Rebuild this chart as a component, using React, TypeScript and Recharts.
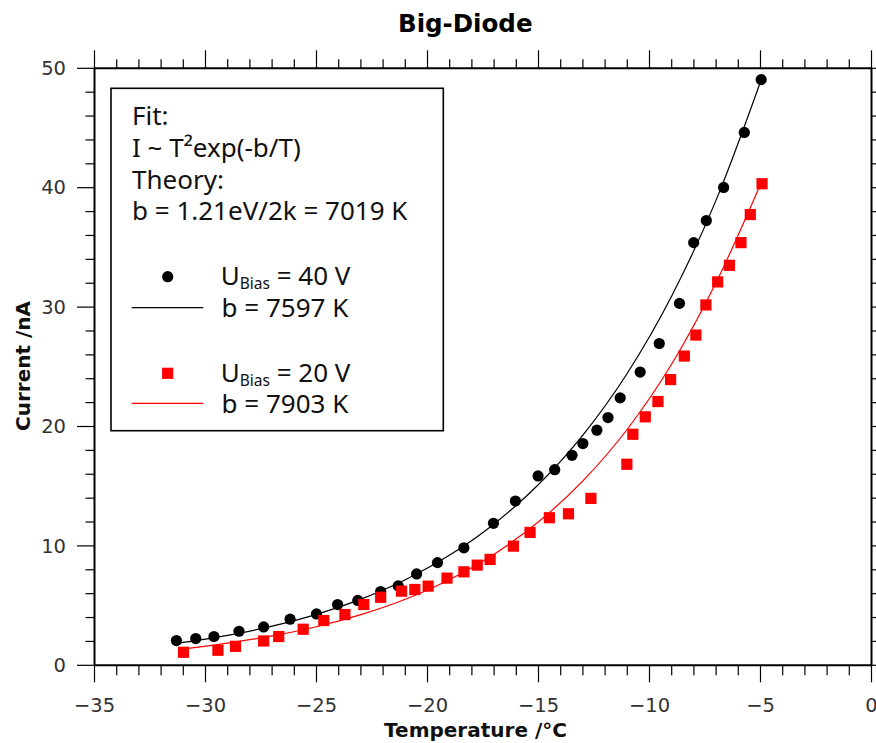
import React from "react";
import { ComposedChart, XAxis, YAxis, Scatter, Line, Customized } from "recharts";

// ---- data ----
const tempBias40 = [-31.31, -30.44, -29.62, -28.49, -27.38, -26.19, -25.0, -24.05, -23.14, -22.11, -21.32, -20.49, -19.55, -18.36, -17.03, -16.04, -15.02, -14.27, -13.49, -13.0, -12.37, -11.87, -11.32, -10.42, -9.56, -8.65, -8.01, -7.44, -6.66, -5.73, -4.97];
const currentBias40 = [2.07, 2.24, 2.41, 2.85, 3.21, 3.86, 4.3, 5.09, 5.43, 6.18, 6.65, 7.65, 8.6, 9.84, 11.89, 13.76, 15.86, 16.38, 17.59, 18.57, 19.69, 20.75, 22.4, 24.56, 26.95, 30.31, 35.4, 37.25, 40.02, 44.63, 49.05];

const tempBias20 = [-30.99, -29.44, -28.65, -27.38, -26.7, -25.6, -24.67, -23.72, -22.87, -22.11, -21.17, -20.57, -19.97, -19.12, -18.36, -17.76, -17.18, -16.13, -15.38, -14.51, -13.65, -12.64, -11.02, -10.75, -10.19, -9.62, -9.05, -8.43, -7.91, -7.46, -6.93, -6.4, -5.88, -5.46, -4.93];
const currentBias20 = [1.09, 1.26, 1.59, 2.04, 2.41, 3.02, 3.75, 4.25, 5.09, 5.7, 6.21, 6.35, 6.63, 7.3, 7.83, 8.39, 8.87, 9.98, 11.13, 12.36, 12.69, 13.98, 16.84, 19.35, 20.81, 22.09, 23.93, 25.9, 27.66, 30.18, 32.11, 33.5, 35.4, 37.75, 40.33];

const fitTemp40 = [-31.4, -29, -27, -25, -23, -21, -19, -17, -15, -13, -11, -9, -7, -4.9];
const fitCurrent40 = [1.8, 2.5, 3.28, 4.27, 5.54, 7.17, 9.23, 11.84, 15.14, 19.28, 24.46, 30.93, 38.96, 49.4];

const fitTemp20 = [-31.1, -29, -27, -25, -23, -21, -19, -17, -15, -13, -11, -9, -7, -4.9];
const fitCurrent20 = [1.35, 1.86, 2.46, 3.23, 4.24, 5.53, 7.19, 9.31, 12.02, 15.45, 19.77, 25.23, 32.06, 40.7];

const xTicks = Array.from({ length: 36 }, (_, i) => -35 + i);
const yTicks = Array.from({ length: 26 }, (_, i) => i * 2);

const title = "Big-Diode";
const xLabel = "Temperature /°C";
const yLabel = "Current /nA";
const legendLines = ["Fit:", "I ~ T²exp(-b/T)", "Theory:", "b = 1.21eV/2k = 7019 K"];
const series40Label = { main: "U", sub: "Bias", rest: " = 40 V", fit: "b = 7597 K" };
const series20Label = { main: "U", sub: "Bias", rest: " = 20 V", fit: "b = 7903 K" };

const zip = (t: number[], c: number[]) => t.map((T, i) => ({ T, I: c[i] }));
const data40 = zip(tempBias40, currentBias40);
const data20 = zip(tempBias20, currentBias20);
const fit40 = zip(fitTemp40, fitCurrent40);
const fit20 = zip(fitTemp20, fitCurrent20);

const TICK_FONT = "'DejaVu Sans', sans-serif";
const TICK_COLOR = "#333";
const TICK_SIZE = 19.5;

const fmt = (v: number) => (v < 0 ? "\u2212" + Math.abs(v) : String(v));

const BottomTick = (p: any) => {
  const v = p.payload.value;
  const major = Math.round(v) % 5 === 0;
  return (
    <g>
      <line x1={p.x} x2={p.x} y1={p.y} y2={p.y + (major ? 17 : 10)} stroke="#000" strokeWidth={1.2} />
      {major && (
        <text x={p.x} y={p.y + 46.7} textAnchor="middle" fontFamily={TICK_FONT} fontSize={TICK_SIZE} fill={TICK_COLOR}>
          {fmt(v)}
        </text>
      )}
    </g>
  );
};

const TopTick = (p: any) => {
  const v = p.payload.value;
  const major = Math.round(v) % 5 === 0;
  return <line x1={p.x} x2={p.x} y1={p.y} y2={p.y - (major ? 18 : 9)} stroke="#000" strokeWidth={1.2} />;
};

const LeftTick = (p: any) => {
  const v = p.payload.value;
  const major = Math.round(v) % 10 === 0;
  return (
    <g>
      <line x1={p.x} x2={p.x - (major ? 17.5 : 9)} y1={p.y} y2={p.y} stroke="#000" strokeWidth={1.2} />
      {major && (
        <text x={p.x - 28.5} y={p.y + 6.6} textAnchor="end" fontFamily={TICK_FONT} fontSize={TICK_SIZE} fill={TICK_COLOR}>
          {fmt(v)}
        </text>
      )}
    </g>
  );
};

const RightTick = (p: any) => {
  const v = p.payload.value;
  const major = Math.round(v) % 10 === 0;
  return <line x1={p.x} x2={p.x + (major ? 17.5 : 9)} y1={p.y} y2={p.y} stroke="#000" strokeWidth={1.2} />;
};

const Dot = (p: any) => <circle cx={p.cx} cy={p.cy} r={5.6} fill="#000" />;
const Square = (p: any) => <rect x={p.cx - 5.6} y={p.cy - 5.6} width={11.2} height={11.2} fill="#ff0000" />;

const LEG_FONT = "'Noto Sans', 'Open Sans', sans-serif";
const LEG_SIZE = 26;

const SeriesText = ({ x, y, lab }: any) => (
  <text x={x} y={y} fontFamily={LEG_FONT} fontSize={LEG_SIZE} fill="#111">
    {lab.main}
    <tspan fontSize={15.5} dy={4}>{lab.sub}</tspan>
    <tspan fontSize={LEG_SIZE} dy={-4}>{lab.rest}</tspan>
  </text>
);

const Overlay = () => (
  <g>
    <text x={398} y={31.5} fontFamily={TICK_FONT} fontWeight="bold" fontSize={24.5} fill="#000">
      {title}
    </text>
    <text x={475.5} y={737} textAnchor="middle" fontFamily={TICK_FONT} fontWeight="bold" fontSize={20} fill="#111">
      {xLabel}
    </text>
    <text transform="translate(29.5,366) rotate(-90)" x={0} y={0} textAnchor="middle" fontFamily={TICK_FONT} fontWeight="bold" fontSize={20} fill="#111">
      {yLabel}
    </text>
    <rect x={111} y={88.3} width={332.3} height={342.4} fill="none" stroke="#000" strokeWidth={1.6} />
    {legendLines.map((s, i) => (
      <text key={i} x={132} y={[125, 156.7, 189.3, 220][i]} fontFamily={LEG_FONT} fontSize={LEG_SIZE} fill="#111">
        {s}
      </text>
    ))}
    <circle cx={167.7} cy={276.7} r={5.6} fill="#000" />
    <SeriesText x={220.7} y={285} lab={series40Label} />
    <line x1={131.7} x2={203.3} y1={307.7} y2={307.7} stroke="#000" strokeWidth={1.3} />
    <text x={221.5} y={317} fontFamily={LEG_FONT} fontSize={LEG_SIZE} fill="#111">{series40Label.fit}</text>
    <rect x={162.1} y={367.7} width={11.2} height={11.2} fill="#ff0000" />
    <SeriesText x={220.7} y={381.7} lab={series20Label} />
    <line x1={131.7} x2={203.3} y1={403.3} y2={403.3} stroke="#ff0000" strokeWidth={1.3} />
    <text x={221.5} y={413.3} fontFamily={LEG_FONT} fontSize={LEG_SIZE} fill="#111">{series20Label.fit}</text>
  </g>
);

export default function App() {
  return (
    <div style={{ position: "absolute", left: 0, top: 0, width: 876, height: 743, background: "#fff" }}>
      <ComposedChart width={876} height={743} margin={{ top: 50.3, right: 0, bottom: 0, left: 0 }}>
        <XAxis xAxisId="b" dataKey="T" type="number" domain={[-35, 0]} ticks={xTicks} interval={0}
          orientation="bottom" height={77.7} tickSize={0} tickMargin={0} tick={BottomTick}
          axisLine={{ stroke: "#000", strokeWidth: 2 }} allowDataOverflow />
        <XAxis xAxisId="t" dataKey="T" type="number" domain={[-35, 0]} ticks={xTicks} interval={0}
          orientation="top" height={18} tickSize={0} tickMargin={0} tick={TopTick}
          axisLine={{ stroke: "#000", strokeWidth: 2 }} allowDataOverflow />
        <YAxis yAxisId="l" type="number" domain={[0, 50]} ticks={yTicks} interval={0}
          orientation="left" width={94.5} tickSize={0} tickMargin={0} tick={LeftTick}
          axisLine={{ stroke: "#000", strokeWidth: 2 }} allowDataOverflow />
        <YAxis yAxisId="r" type="number" domain={[0, 50]} ticks={yTicks} interval={0}
          orientation="right" width={4.5} tickSize={0} tickMargin={0} tick={RightTick}
          axisLine={{ stroke: "#000", strokeWidth: 2 }} allowDataOverflow />
        <Line data={fit40} dataKey="I" xAxisId="b" yAxisId="l" type="monotone" dot={false} stroke="#000"
          strokeWidth={1.2} isAnimationActive={false} />
        <Line data={fit20} dataKey="I" xAxisId="b" yAxisId="l" type="monotone" dot={false} stroke="#ff0000"
          strokeWidth={1.2} isAnimationActive={false} />
        <Scatter data={data40} dataKey="I" xAxisId="b" yAxisId="l" shape={Dot} isAnimationActive={false} />
        <Scatter data={data20} dataKey="I" xAxisId="b" yAxisId="l" shape={Square} isAnimationActive={false} />
        <Customized component={Overlay} />
      </ComposedChart>
    </div>
  );
}
